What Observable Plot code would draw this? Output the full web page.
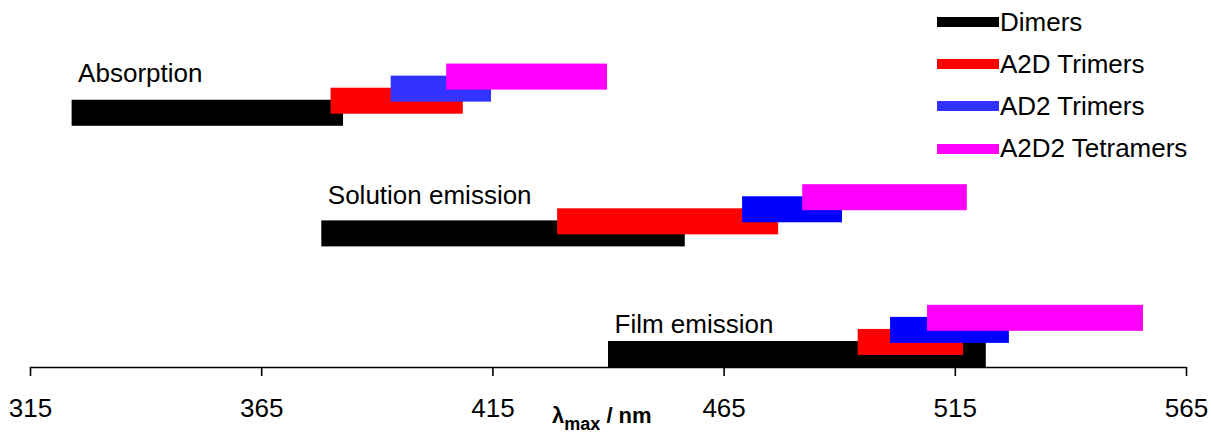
<!DOCTYPE html>
<html>
<head>
<meta charset="utf-8">
<script src="https://cdn.jsdelivr.net/npm/d3@7"></script>
<script src="https://cdn.jsdelivr.net/npm/@observablehq/plot@0.6"></script>
<style>
  html, body { margin: 0; padding: 0; background: #fff; }
  #wrap { position: relative; width: 1211px; height: 434px; font-family: "Liberation Sans", Arial, sans-serif; }
  #legend { position: absolute; left: 937px; top: 1px; }
  .row { display: flex; align-items: center; height: 42.2px; font-size: 26px; color: #000; }
  .sw { width: 62px; height: 10px; margin-right: 1px; }
</style>
</head>
<body>
<div id="wrap"><div id="chart"></div><div id="legend"></div></div>
<script>
// ---- data ----
const groups = ["Absorption", "Solution emission", "Film emission"];
const series = ["Dimers", "A2D Trimers", "AD2 Trimers", "A2D2 Tetramers"];
const seriesColors = ["#000000", "#ff0000", "#0000ff", "#ff00ff"];
// lambda_max ranges (nm) per series, one entry per group (Absorption, Solution emission, Film emission)
const dimersStart = [324, 378, 440];
const dimersEnd   = [382.7, 456.6, 521.7];
const a2dStart    = [380, 429, 494];
const a2dEnd      = [408.6, 476.8, 516.8];
const ad2Start    = [393, 469, 501];
const ad2End      = [414.7, 490.6, 526.7];
const a2d2Start   = [405, 482, 509];
const a2d2End     = [439.8, 517.6, 555.7];
const xTicks = [315, 365, 415, 465, 515, 565];

// ---- build table ----
const starts = [dimersStart, a2dStart, ad2Start, a2d2Start];
const ends = [dimersEnd, a2dEnd, ad2End, a2d2End];
const groupBase = [20, 10, 0];   // layout rows
const half = 1.078;
const rows = [];
series.forEach((s, si) => {
  groups.forEach((g, gi) => {
    const yc = groupBase[gi] + si;
    rows.push({series: s, group: g, gi, si, x1: starts[si][gi], x2: ends[si][gi], y1: yc - half, y2: yc + half});
  });
});
const labelOffset = [2.58, 2.5, 1.8];
const labels = groups.map((g, gi) => ({text: g, x: dimersStart[gi], y: groupBase[gi] + labelOffset[gi]}));

const fillFor = d => (d.si === 2 && d.gi === 0) ? "#3333ff" : seriesColors[d.si];

const chart = Plot.plot({
  width: 1211,
  height: 434,
  marginLeft: 30,
  marginRight: 25,
  marginTop: 0,
  marginBottom: 67,
  style: {fontFamily: "'Liberation Sans', Arial, sans-serif", fontSize: "26px", color: "#000", background: "transparent"},
  x: {domain: [315, 565]},
  y: {domain: [-half, 29.35], axis: null},
  marks: [
    Plot.rect(rows, {x1: "x1", x2: "x2", y1: "y1", y2: "y2", fill: fillFor}),
    Plot.text(labels, {x: "x", y: "y", text: "text", textAnchor: "start", lineAnchor: "bottom", dx: 6, fontSize: 26, fill: "#000"}),
    Plot.ruleY([-half], {stroke: "#000", strokeWidth: 1.6}),
    Plot.axisX({ticks: xTicks, tickFormat: d => String(d), tickSize: 9, tickPadding: 22, fontSize: 26, label: null, stroke: "#000", strokeWidth: 1.6, strokeOpacity: 1})
  ]
});
document.getElementById("chart").appendChild(chart);

// axis title with subscript
const xs = chart.scale("x");
const cx = (xs.range[0] + xs.range[1]) / 2;
const svg = d3.select(chart);
const t = svg.append("text")
  .attr("x", cx - 56)
  .attr("y", 423)
  .attr("font-weight", "bold")
  .attr("font-size", 22)
  .attr("fill", "#000")
  .attr("text-anchor", "start");
t.append("tspan").text("λ");
t.append("tspan").attr("font-size", 18).attr("dy", 7).text("max");
t.append("tspan").attr("dy", -7).text(" / nm");

// legend
const legend = document.getElementById("legend");
series.forEach((s, i) => {
  const row = document.createElement("div");
  row.className = "row";
  const sw = document.createElement("div");
  sw.className = "sw";
  sw.style.background = i === 2 ? "#3333ff" : seriesColors[i];
  const lab = document.createElement("span");
  lab.textContent = s;
  row.appendChild(sw);
  row.appendChild(lab);
  legend.appendChild(row);
});
</script>
</body>
</html>
